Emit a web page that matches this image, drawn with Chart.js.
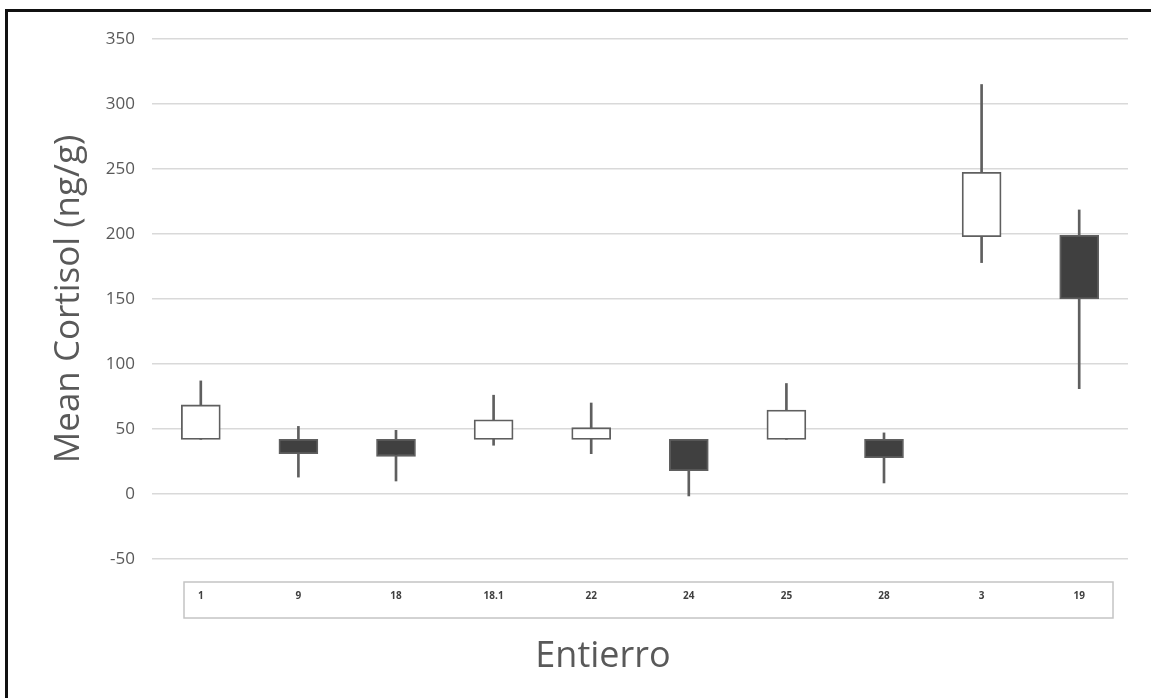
<!DOCTYPE html>
<html>
<head>
<meta charset="utf-8">
<title>Mean Cortisol</title>
<script src="https://cdn.jsdelivr.net/npm/chart.js@4"></script>
<style>
  html, body { margin: 0; padding: 0; background: #fff; overflow: hidden; }
  #frame {
    position: absolute; left: 5px; top: 9px; width: 1200px; height: 760px;
    border-left: 3px solid #111; border-top: 3px solid #111;
  }
  #myChart { position: absolute; left: 0; top: 0; }
</style>
</head>
<body>
<div id="frame"></div>
<canvas id="myChart" width="1151" height="698"></canvas>
<script>
// entierro (burial) ids, in chart order
const entierros = ["1", "9", "18", "18.1", "22", "24", "25", "28", "3", "19"];
const openVals  = [42, 42, 42, 42, 42, 42, 42, 42, 198, 199];
const closeVals = [68.5, 31, 29, 57, 51, 18, 64.5, 28, 247.5, 150];
const highVals  = [87, 52, 49, 76, 70, 42, 85, 47, 315, 218.5];
const lowVals   = [42, 13, 10, 37.5, 31, -1.5, 42, 8.5, 178, 81];
const yTicks    = [-50, 0, 50, 100, 150, 200, 250, 300, 350];

Chart.defaults.font.family = "'Open Sans', sans-serif";

// box drawn around the category labels, like the excel one
const labelBox = {
  id: "labelBox",
  afterDraw(chart) {
    const { ctx, chartArea } = chart;
    ctx.save();
    ctx.strokeStyle = "#c4c4c4";
    ctx.lineWidth = 1.5;
    ctx.strokeRect(chartArea.left + 32, chartArea.bottom + 23,
      chartArea.right - chartArea.left - 47, 36);
    ctx.restore();
  },
};

const ctx = document.getElementById("myChart");
const chart = new Chart(ctx, {
  type: "bar",
  data: {
    labels: entierros,
    datasets: [
      {
        label: "body",
        data: entierros.map((_, i) => [openVals[i], closeVals[i]]),
        backgroundColor: entierros.map((_, i) =>
          closeVals[i] >= openVals[i] ? "#ffffff" : "#404040"),
        borderColor: "#5f5f5f",
        borderWidth: 1.8,
        borderSkipped: false,
        barThickness: 39,
        grouped: false,
        order: 1,
      },
      {
        label: "range",
        data: entierros.map((_, i) => [lowVals[i], highVals[i]]),
        backgroundColor: "#5f5f5f",
        borderWidth: 0,
        barThickness: 2,
        grouped: false,
        order: 2,
      },
    ],
  },
  options: {
    responsive: false,
    animation: false,
    layout: { padding: { left: 78, right: 23, top: 39, bottom: 19.4 } },
    plugins: {
      legend: { display: false },
      tooltip: { enabled: false },
      title: {
        display: true,
        position: "bottom",
        text: "Entierro",
        color: "#595959",
        font: { size: 36, weight: "normal" },
        padding: 0,
      },
    },
    scales: {
      x: {
        grid: { display: false, drawTicks: false },
        border: { display: false },
        ticks: { color: "#404040", font: { size: 10, weight: "bold" }, padding: 31 },
        afterFit: (scale) => { scale.height = 76.4; },
      },
      y: {
        min: -50,
        max: 350,
        afterBuildTicks: (scale) => { scale.ticks = yTicks.map((v) => ({ value: v })); },
        grid: { color: "#d9d9d9", lineWidth: 1.5, drawTicks: false },
        border: { display: false },
        ticks: { color: "#595959", font: { size: 17 }, padding: 17 },
        title: {
          display: true,
          text: "Mean Cortisol (ng/g)",
          color: "#595959",
          font: { size: 35 },
          padding: { top: -30, bottom: 0 },
        },
        afterFit: (scale) => { scale.width = 74; },
      },
    },
  },
  plugins: [labelBox],
});
</script>
</body>
</html>
